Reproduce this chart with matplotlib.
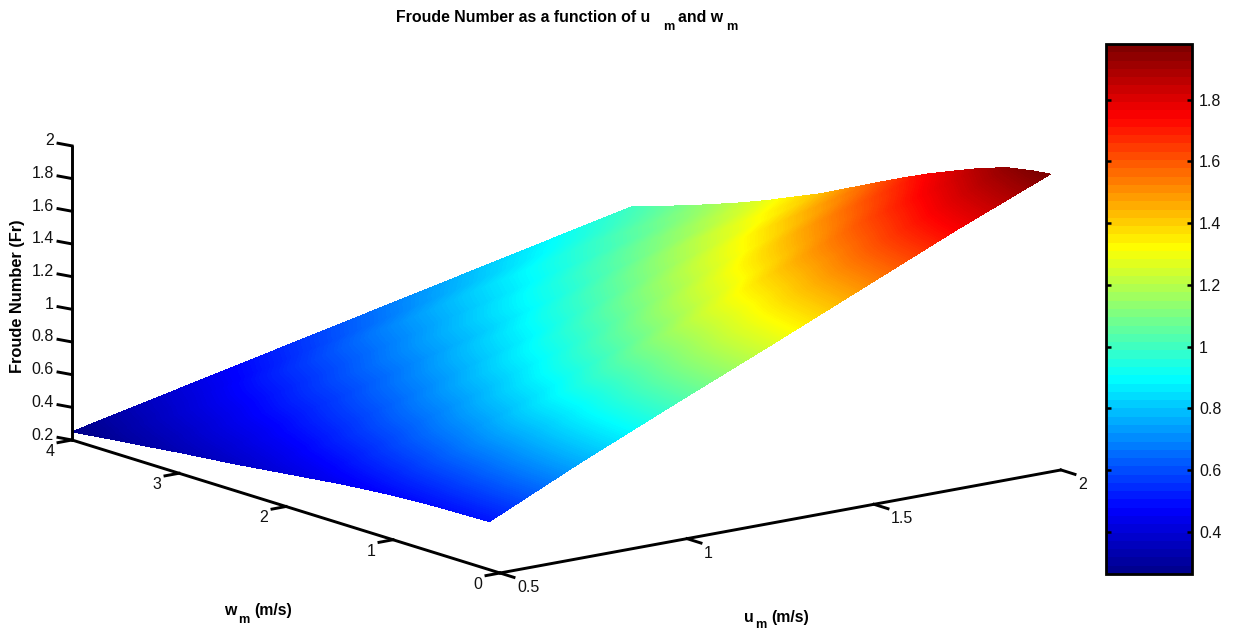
#! /usr/bin/env python3

import matplotlib
matplotlib.use("Agg")
import matplotlib.pyplot as plt
import matplotlib.tri as mtri
from matplotlib.cm import ScalarMappable
from matplotlib.colors import LinearSegmentedColormap, Normalize
import numpy as np

plt.rcParams['font.family'] = ['Liberation Sans', 'DejaVu Sans']

# surface heights, one row per wm, one column per um
um_values = [0.5, 0.75, 1.0, 1.25, 1.5, 1.75, 2.0]
wm_values = [0.1, 0.25, 0.5, 0.75, 1.0, 1.25, 1.5, 1.75, 2.0, 2.25, 2.5, 2.75, 3.0, 3.25, 3.5, 3.75, 4.0]
fr_values = [
    [0.494, 0.760, 1.010, 1.255, 1.505, 1.755, 1.990],
    [0.492, 0.755, 1.003, 1.247, 1.493, 1.742, 1.978],
    [0.488, 0.742, 0.988, 1.228, 1.470, 1.712, 1.948],
    [0.482, 0.724, 0.958, 1.193, 1.427, 1.660, 1.893],
    [0.472, 0.710, 0.941, 1.168, 1.391, 1.612, 1.826],
    [0.458, 0.680, 0.885, 1.095, 1.315, 1.540, 1.757],
    [0.442, 0.655, 0.858, 1.060, 1.269, 1.482, 1.679],
    [0.422, 0.618, 0.807, 0.997, 1.196, 1.400, 1.598],
    [0.402, 0.594, 0.779, 0.962, 1.152, 1.343, 1.515],
    [0.382, 0.559, 0.729, 0.900, 1.082, 1.264, 1.432],
    [0.362, 0.535, 0.701, 0.866, 1.039, 1.212, 1.361],
    [0.345, 0.505, 0.657, 0.810, 0.974, 1.137, 1.289],
    [0.328, 0.486, 0.637, 0.786, 0.938, 1.087, 1.224],
    [0.308, 0.456, 0.599, 0.742, 0.882, 1.021, 1.163],
    [0.290, 0.434, 0.576, 0.716, 0.852, 0.982, 1.105],
    [0.270, 0.402, 0.531, 0.660, 0.791, 0.922, 1.050],
    [0.250, 0.375, 0.500, 0.625, 0.750, 0.875, 1.000],
]

u_ticks = [0.5, 1, 1.5, 2]
u_labels = ['0.5', '1', '1.5', '2']
w_ticks = [0, 1, 2, 3, 4]
w_labels = ['0', '1', '2', '3', '4']
z_ticks = [0.2, 0.4, 0.6, 0.8, 1, 1.2, 1.4, 1.6, 1.8, 2]
z_labels = ['0.2', '0.4', '0.6', '0.8', '1', '1.2', '1.4', '1.6', '1.8', '2']
cbar_ticks = [0.4, 0.6, 0.8, 1, 1.2, 1.4, 1.6, 1.8]
cbar_labels = ['0.4', '0.6', '0.8', '1', '1.2', '1.4', '1.6', '1.8']
c_min = 0.264
c_max = 1.98

# matplotlib's jet has its knots elsewhere, so use the stops of the original colormap
jet_stops = [
    (0.0, (0, 0, 0.5625)),
    (0.117, (0, 0, 1)),
    (0.367, (0, 1, 1)),
    (0.617, (1, 1, 0)),
    (0.867, (1, 0, 0)),
    (1.0, (0.5, 0, 0)),
]


def project(u, w, z):
    """
    Orthographic view of the 3D box, result is in figure pixels
    """
    u = np.asarray(u, dtype=float)
    w = np.asarray(w, dtype=float)
    z = np.asarray(z, dtype=float)
    x = 500 + (u - 0.5)*374.0 - w*107.0
    y = 573 - (u - 0.5)*68.7 - w*33.25 - (z - 0.2)*163.4
    return x, y


fig = plt.figure(figsize=(12.37, 6.30), dpi=100)
ax = fig.add_axes([0, 0, 1, 1])
ax.set_xlim(0, 1237)
ax.set_ylim(630, 0)
ax.axis('off')

# Surface
uu, ww = np.meshgrid(um_values, wm_values)
zz = np.array(fr_values)
sx, sy = project(uu, ww, zz)

rows, cols = zz.shape
triangles = []
for r in range(rows - 1):
    for c in range(cols - 1):
        a = r*cols + c
        triangles.append([a, a + 1, a + cols])
        triangles.append([a + 1, a + cols + 1, a + cols])
tri = mtri.Triangulation(sx.ravel(), sy.ravel(), triangles)

# The surface is interpolated, only the colorbar shows the 64 colour steps
levels = np.linspace(c_min, c_max, 300)
jet_fine = LinearSegmentedColormap.from_list('jet_fine', jet_stops, N=512)
jet_64 = LinearSegmentedColormap.from_list('jet_64', jet_stops, N=64)
ax.tricontourf(tri, zz.ravel(), levels=levels, cmap=jet_fine, vmin=c_min, vmax=c_max,
               antialiased=False, extend='both')

# Axis lines
lw = 2.1
x0, y0 = project([0.5, 2], [0, 0], [0.2, 0.2])
ax.plot(x0, y0, color='black', lw=lw, solid_capstyle='round')
x0, y0 = project([0.5, 0.5], [0, 4], [0.2, 0.2])
ax.plot(x0, y0, color='black', lw=lw, solid_capstyle='round')
x0, y0 = project([0.5, 0.5], [4, 4], [0.2, 2])
ax.plot(x0, y0, color='black', lw=lw, solid_capstyle='round')

# Ticks, they run parallel to the other floor axis
tick_fs = 11.5
for u, label in zip(u_ticks, u_labels):
    x, y = project(u, 0, 0.2)
    ax.plot([x, x + 14], [y, y + 4.4], color='black', lw=lw)
    ax.text(x + 17, y + 14.5, label, fontsize=tick_fs, ha='left', va='center', color='#111111')

for w, label in zip(w_ticks, w_labels):
    x, y = project(0.5, w, 0.2)
    ax.plot([x, x - 14], [y, y + 2.6], color='black', lw=lw)
    ax.text(x - 22, y + 11.5, label, fontsize=tick_fs, ha='center', va='center', color='#111111')

for z, label in zip(z_ticks, z_labels):
    x, y = project(0.5, 4, z)
    ax.plot([x, x - 14], [y, y - 2.6], color='black', lw=lw)
    ax.text(x - 18, y - 5, label, fontsize=tick_fs, ha='right', va='center', color='#111111')


def bold(x, y, s, size=11.4, **kwargs):
    ax.text(x, y, s, fontsize=size, fontweight='bold', va='baseline', ha='left', color='black', **kwargs)


# Title and labels, subscripts placed by hand as in the original
bold(396, 22, 'Froude Number as a function of u')
bold(663, 30, 'm', size=9.2)
bold(678, 22, 'and w')
bold(726, 30, 'm', size=9.2)

bold(224, 615, 'w')
bold(238, 623, 'm', size=9.2)
bold(254, 615, '(m/s)')

bold(744, 622, 'u')
bold(755, 628, 'm', size=9.2)
bold(771, 622, '(m/s)')

ax.text(18, 296, 'Froude Number (Fr)', fontsize=11.8, fontweight='bold', rotation=90,
        ha='center', va='center', color='black')

# Colorbar
cax = fig.add_axes([1106/1237, 1 - 574/630, (1192 - 1106)/1237, (574 - 44)/630])
sm = ScalarMappable(norm=Normalize(c_min, c_max), cmap=jet_64)
cbar = fig.colorbar(sm, cax=cax)
cbar.set_ticks(cbar_ticks)
cbar.set_ticklabels(cbar_labels)
cbar.outline.set_linewidth(2.0)
cax.minorticks_off()
cax.tick_params(axis='y', which='major', direction='in', left=True, right=True, length=3.5, width=1.8,
                labelsize=tick_fs, pad=5, labelcolor='#111111')

fig.savefig('out.png', dpi=100)
